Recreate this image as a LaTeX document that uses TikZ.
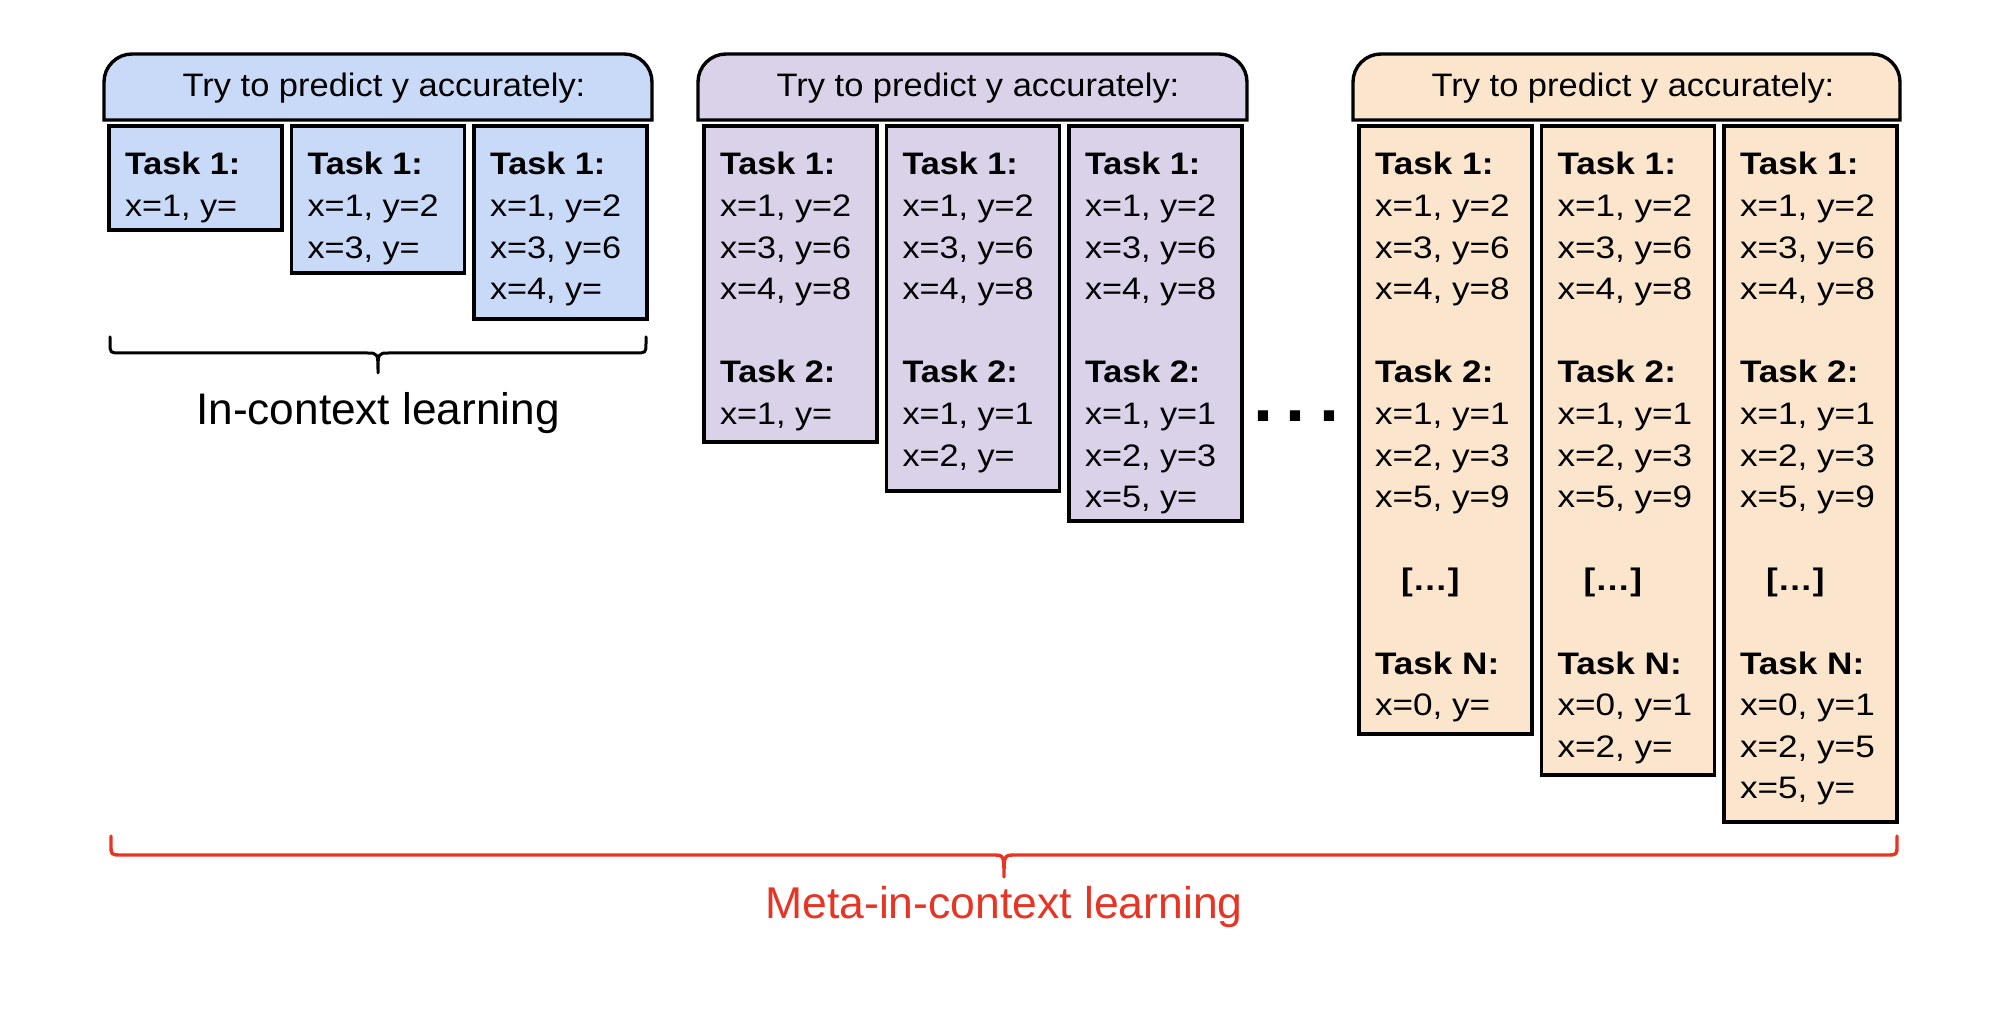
\documentclass[tikz,border=0pt]{standalone}
\usepackage{fontspec}
\setmainfont{Liberation Sans}
\newfontfamily\boxfont[FakeStretch=1.1]{Liberation Sans}
\newfontfamily\boxfontw[FakeStretch=1.13]{Liberation Sans}
\newfontfamily\hdrfont[FakeStretch=1.06]{Liberation Sans}
\definecolor{cblue}{HTML}{C9DAF8}
\definecolor{cpurple}{HTML}{D9D2E9}
\definecolor{corange}{HTML}{FCE5CD}
\definecolor{cred}{RGB}{232,52,36}
\tikzset{
  every node/.style={inner sep=0pt, outer sep=0pt},
  boxline/.style={draw=black, line width=1.7pt, line join=miter},
  taskbox/.style={boxline, rectangle, anchor=north west, minimum width=86.5pt},
  tasktext/.style={anchor=base west, font=\boxfont\fontsize{15.55}{20.8}\selectfont},
  tasktextw/.style={anchor=base west, font=\boxfontw\fontsize{15.55}{20.8}\selectfont},
  hdrtext/.style={anchor=base, font=\hdrfont\fontsize{16.25}{19}\selectfont},
  biglabel/.style={anchor=base, font=\fontsize{22.1}{26}\selectfont},
  bracestyle/.style={line width=1.5pt, line cap=round, line join=round},
}
\newcommand\tb[1]{\parbox[t]{80pt}{\raggedright #1}}
\newcommand\hdrshape[3]{%
  \filldraw[boxline, fill=#3] (#1,120) -- (#1,82) .. controls (#1,66.6) and ({#1+12.6},54) .. ({#1+28},54)
    -- ({#2-28},54) .. controls ({#2-12.6},54) and (#2,66.6) .. (#2,82) -- (#2,120) -- cycle;}
\begin{document}
\begin{tikzpicture}[x=0.5pt, y=-0.5pt]
\useasboundingbox (0,0) rectangle (2004,1020);
\fill[white] (0,0) rectangle (2004,1020);

% ---------------- Group 1 ----------------
\hdrshape{104}{652}{cblue}
\node[hdrtext] (h1) at (384,97) {Try to predict y accurately:};
\node[taskbox, fill=cblue, minimum height=52pt] (g1a) at (109,126) {};
\node[taskbox, fill=cblue, minimum height=73.5pt] (g1b) at (291.5,126) {};
\node[taskbox, fill=cblue, minimum height=96.5pt] (g1c) at (474,126) {};
\node[tasktext] (g1at) at (125,175) {\tb{\textbf{Task 1:}\\x=1, y=}};
\node[tasktext] (g1bt) at (307.5,175) {\tb{\textbf{Task 1:}\\x=1, y=2\\x=3, y=}};
\node[tasktext] (g1ct) at (490,175) {\tb{\textbf{Task 1:}\\x=1, y=2\\x=3, y=6\\x=4, y=}};
\draw[bracestyle] (110,337) -- (110,343) .. controls (110,353) .. (121,353) -- (367,353)
  .. controls (378,353) .. (378,373) .. controls (378,353) .. (389,353) -- (635,353)
  .. controls (646,353) .. (646,343) -- (646,337);
\node[biglabel] (icl) at (378,425) {In-context learning};

% ---------------- Group 2 ----------------
\hdrshape{698}{1247}{cpurple}
\node[hdrtext] (h2) at (978,97) {Try to predict y accurately:};
\node[taskbox, fill=cpurple, minimum height=158pt] (g2a) at (704,126) {};
\node[taskbox, fill=cpurple, minimum height=182.5pt] (g2b) at (886.5,126) {};
\node[taskbox, fill=cpurple, minimum height=197.5pt] (g2c) at (1069,126) {};
\node[tasktext] (g2at) at (720,175) {\tb{\textbf{Task 1:}\\x=1, y=2\\x=3, y=6\\x=4, y=8\\[20.8pt]\textbf{Task 2:}\\x=1, y=}};
\node[tasktext] (g2bt) at (902.5,175) {\tb{\textbf{Task 1:}\\x=1, y=2\\x=3, y=6\\x=4, y=8\\[20.8pt]\textbf{Task 2:}\\x=1, y=1\\x=2, y=}};
\node[tasktext] (g2ct) at (1085,175) {\tb{\textbf{Task 1:}\\x=1, y=2\\x=3, y=6\\x=4, y=8\\[20.8pt]\textbf{Task 2:}\\x=1, y=1\\x=2, y=3\\x=5, y=}};

\node[anchor=base west, font=\bfseries\fontsize{36}{40}\selectfont] (dots) at (1253,422) {.\kern6.5pt.\kern6.5pt.};

% ---------------- Group 3 ----------------
\hdrshape{1353}{1900}{corange}
\node[hdrtext] (h3) at (1633,97) {Try to predict y accurately:};
\node[taskbox, fill=corange, minimum height=304pt] (g3a) at (1359,126) {};
\node[taskbox, fill=corange, minimum height=324.5pt] (g3b) at (1541.5,126) {};
\node[taskbox, fill=corange, minimum height=348pt] (g3c) at (1724,126) {};
\node[tasktextw] (g3at) at (1375,175) {\tb{\textbf{Task 1:}\\x=1, y=2\\x=3, y=6\\x=4, y=8\\[20.8pt]\textbf{Task 2:}\\x=1, y=1\\x=2, y=3\\x=5, y=9\\[20.8pt]\hspace*{13pt}\textbf{[…]}\\[20.8pt]\textbf{Task N:}\\x=0, y=}};
\node[tasktextw] (g3bt) at (1557.5,175) {\tb{\textbf{Task 1:}\\x=1, y=2\\x=3, y=6\\x=4, y=8\\[20.8pt]\textbf{Task 2:}\\x=1, y=1\\x=2, y=3\\x=5, y=9\\[20.8pt]\hspace*{13pt}\textbf{[…]}\\[20.8pt]\textbf{Task N:}\\x=0, y=1\\x=2, y=}};
\node[tasktextw] (g3ct) at (1740,175) {\tb{\textbf{Task 1:}\\x=1, y=2\\x=3, y=6\\x=4, y=8\\[20.8pt]\textbf{Task 2:}\\x=1, y=1\\x=2, y=3\\x=5, y=9\\[20.8pt]\hspace*{13pt}\textbf{[…]}\\[20.8pt]\textbf{Task N:}\\x=0, y=1\\x=2, y=5\\x=5, y=}};

% ---------------- Meta brace ----------------
\draw[bracestyle, draw=cred, line width=1.7pt] (111,836) -- (111,845) .. controls (111,855) .. (122,855) -- (992,855)
  .. controls (1004,855) .. (1004,877) .. controls (1004,855) .. (1016,855) -- (1886,855)
  .. controls (1897,855) .. (1897,845) -- (1897,836);
\node[biglabel, text=cred, font=\fontsize{22.25}{26}\selectfont] (micl) at (1004,919) {Meta-in-context learning};
\end{tikzpicture}
\end{document}
